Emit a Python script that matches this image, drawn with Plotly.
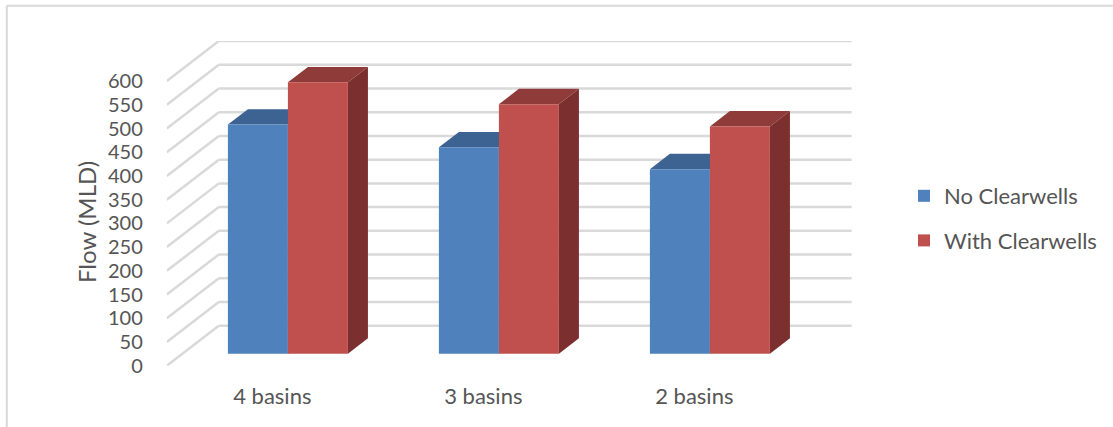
import plotly.graph_objects as go

# Chart data
categories = ["4 basins", "3 basins", "2 basins"]
no_clearwells = [483, 435, 389]
with_clearwells = [572, 526, 479]
flow_ticks = list(range(0, 601, 50))

WIDTH, HEIGHT = 1113, 427
INK = "#555555"
GRID = "#d9d9d9"

# Oblique projection: moving from the front plane (0) to the back wall (1)
# shifts a point right and up, in axis units.
UNITS_X = 211.0                 # pixels per category
UNITS_Y = 23.72 / 50.0          # pixels per MLD
WALL_DX = 52.0 / UNITS_X
WALL_DY = 40.0 / UNITS_Y
BAR_FRONT = 0.30
BAR_BACK = 0.685
BAR_W = 60.0 / UNITS_X

LEFT_PX, RIGHT_PX = 166.8, 851.8
BOTTOM_PX, TOP_PX = 365.7, 41.0
x_range = [-0.5, -0.5 + (RIGHT_PX - LEFT_PX) / UNITS_X]
y_range = [0, (BOTTOM_PX - TOP_PX) / UNITS_Y]


def project(x, v, depth):
    return x + depth * WALL_DX, v + depth * WALL_DY


def polygon(points, fill):
    path = "M " + " L ".join(f"{x:.4f},{y:.3f}" for x, y in points) + " Z"
    return dict(type="path", path=path, xref="x", yref="y", layer="below",
                fillcolor=fill, line=dict(width=0))


shapes = []

# Side wall and back wall rules
for tick in flow_ticks:
    bx, by = project(x_range[0], tick, 1)
    shapes.append(dict(type="line", xref="x", yref="y", layer="below",
                       x0=x_range[0], y0=tick, x1=bx, y1=by,
                       line=dict(color=GRID, width=2.5)))
    shapes.append(dict(type="line", xref="x", yref="y", layer="below",
                       x0=bx, y0=by, x1=x_range[1], y1=by,
                       line=dict(color=GRID, width=2.5)))

# Top and right faces of each bar
series_faces = [
    (no_clearwells, -BAR_W, "#3c6391", "#33547b"),
    (with_clearwells, 0.0, "#8f3b39", "#7b2f2e"),
]
for values, left, top_colour, side_colour in series_faces:
    for i, value in enumerate(values):
        xl, xr = i + left, i + left + BAR_W
        shapes.append(polygon([project(xl, value, BAR_FRONT), project(xl, value, BAR_BACK),
                               project(xr, value, BAR_BACK), project(xr, value, BAR_FRONT)],
                              top_colour))
        shapes.append(polygon([project(xr, value, BAR_FRONT), project(xr, value, BAR_BACK),
                               project(xr, 0, BAR_BACK), project(xr, 0, BAR_FRONT)],
                              side_colour))

# Outer frame along the top and left edges
shapes.append(dict(type="line", xref="paper", yref="paper",
                   x0=6.8 / WIDTH, y0=1 - 5.8 / HEIGHT, x1=1, y1=1 - 5.8 / HEIGHT,
                   line=dict(color=GRID, width=2)))
shapes.append(dict(type="line", xref="paper", yref="paper",
                   x0=6.8 / WIDTH, y0=1 - 5.8 / HEIGHT, x1=6.8 / WIDTH, y1=0,
                   line=dict(color=GRID, width=2)))

fig = go.Figure()
floor_base = BAR_FRONT * WALL_DY
shift = BAR_FRONT * WALL_DX
positions = [i + shift for i in range(len(categories))]
fig.add_trace(go.Bar(name="No Clearwells", legendgroup="a", x=positions, y=no_clearwells,
                     base=floor_base, width=BAR_W, offset=-BAR_W,
                     marker=dict(color="#4f81bd", line=dict(width=0))))
fig.add_trace(go.Bar(name="With Clearwells", legendgroup="b", x=positions, y=with_clearwells,
                     base=floor_base, width=BAR_W, offset=0,
                     marker=dict(color="#c0504d", line=dict(width=0))))

fig.update_layout(
    width=WIDTH, height=HEIGHT, autosize=False,
    margin=dict(l=0, r=0, t=0, b=0, pad=0),
    paper_bgcolor="white", plot_bgcolor="rgba(0,0,0,0)",
    barmode="overlay", shapes=shapes,
    font=dict(family="Lato", color=INK, size=20),
    legend=dict(x=904 / WIDTH, y=1 - 175 / HEIGHT, xanchor="left", yanchor="top",
                bgcolor="rgba(0,0,0,0)", font=dict(size=22), tracegroupgap=13,
                traceorder="grouped", itemwidth=30),
    xaxis=dict(domain=[LEFT_PX / WIDTH, RIGHT_PX / WIDTH], range=x_range, automargin=False,
               tickmode="array", tickvals=list(range(len(categories))), ticktext=categories,
               showgrid=False, zeroline=False, showline=False,
               ticks="outside", ticklen=11, tickcolor="rgba(0,0,0,0)",
               tickfont=dict(size=22, color=INK)),
    yaxis=dict(domain=[1 - BOTTOM_PX / HEIGHT, 1 - TOP_PX / HEIGHT], range=y_range, automargin=False,
               tickmode="array", tickvals=flow_ticks,
               showgrid=False, zeroline=False, showline=False,
               ticks="outside", ticklen=19, tickcolor="rgba(0,0,0,0)",
               tickfont=dict(size=20, color=INK)),
    annotations=[dict(text="Flow (MLD)", textangle=-90, showarrow=False,
                      xref="paper", yref="paper", x=86 / WIDTH, y=1 - 222 / HEIGHT,
                      xanchor="center", yanchor="middle",
                      font=dict(size=24, color=INK))],
)

fig.write_html("out.html")
